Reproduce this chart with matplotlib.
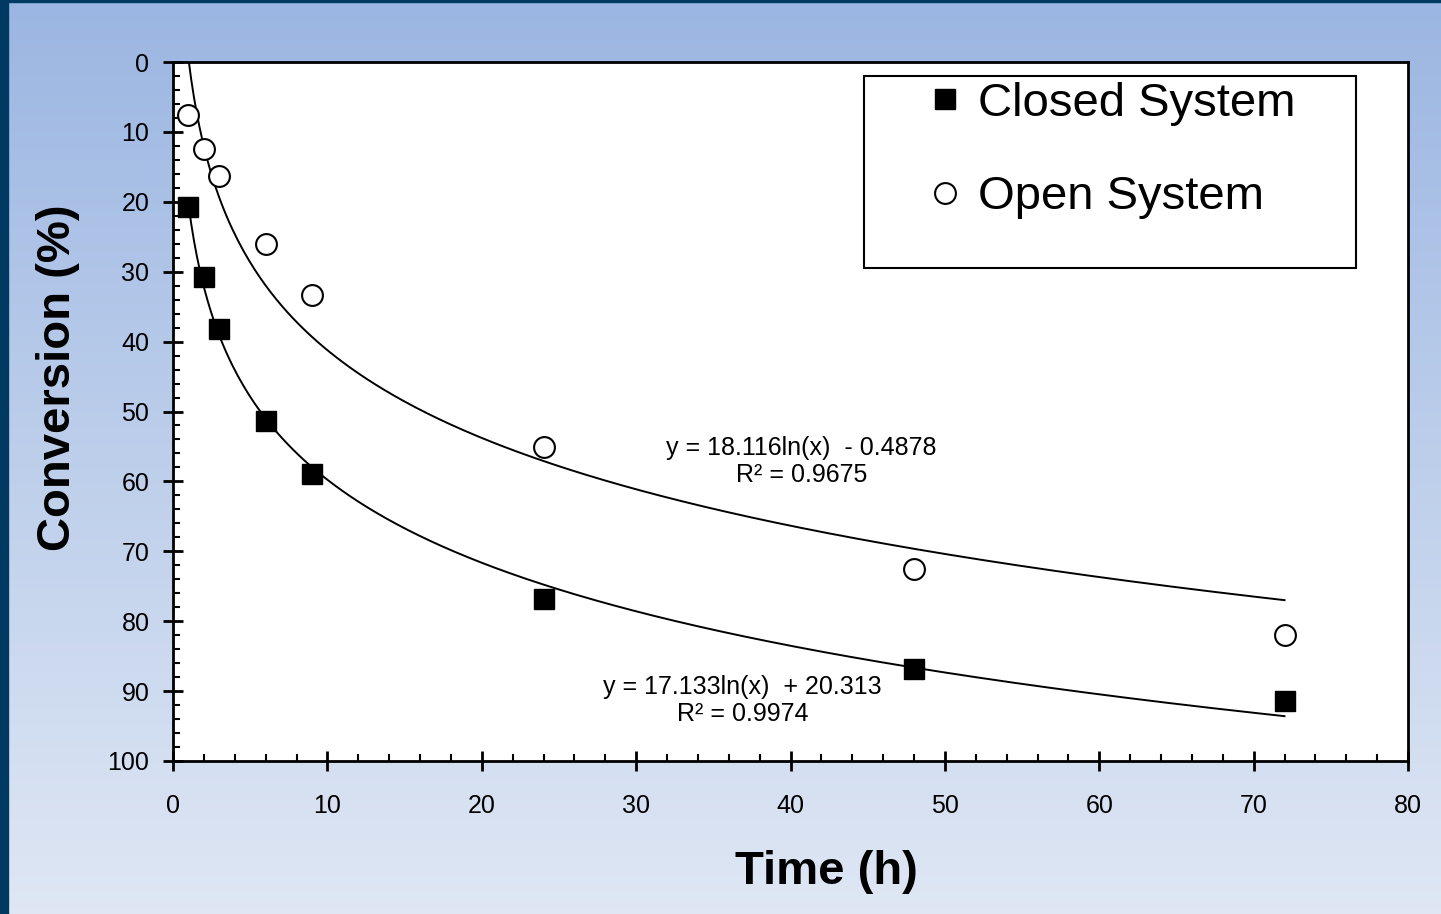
import numpy as np
import matplotlib
matplotlib.use("Agg")
import matplotlib.pyplot as plt
from matplotlib.patches import Rectangle
from matplotlib.ticker import MultipleLocator

plt.rcParams['font.family'] = ['Liberation Sans', 'DejaVu Sans']

# data
time_h = [1, 2, 3, 6, 9, 24, 48, 72]
closed_conv = [20.7, 30.8, 38.2, 51.4, 58.9, 76.8, 86.8, 91.4]
open_conv = [7.6, 12.4, 16.3, 26.0, 33.3, 55.1, 72.5, 82.0]

# log trendline coefficients as printed on the chart
closed_fit = (17.133, 20.313)
open_fit = (18.116, -0.4878)
closed_label = "y = 17.133ln(x)  + 20.313\nR² = 0.9974"
open_label = "y = 18.116ln(x)  - 0.4878\nR² = 0.9675"

W, H = 1441, 914
fig = plt.figure(figsize=(W / 100, H / 100), dpi=100)

# slide-style gradient background
bg = fig.add_axes([0, 0, 1, 1], zorder=-10)
top = np.array([0x9b, 0xb6, 0xe2]) / 255
bot = np.array([0xdf, 0xe7, 0xf4]) / 255
t = np.linspace(0, 1, 256)[:, None]
grad = top + (bot - top) * t
bg.imshow(grad[:, None, :].repeat(2, axis=1), aspect='auto', extent=[0, 1, 0, 1])
bg.add_patch(Rectangle((0, 0), 8 / W, 1, color='#003a63'))
bg.add_patch(Rectangle((0, 1 - 2 / H), 1, 2 / H, color='#003a63'))
bg.set_xlim(0, 1)
bg.set_ylim(0, 1)
bg.axis('off')

ax = fig.add_axes([173 / W, 1 - 761 / H, (1408 - 173) / W, (761 - 62) / H])
ax.set_facecolor('white')

xs = np.linspace(1, 72, 400)
ax.plot(xs, closed_fit[0] * np.log(xs) + closed_fit[1], color='black', lw=1.4, zorder=2)
ax.plot(xs, open_fit[0] * np.log(xs) + open_fit[1], color='black', lw=1.4, zorder=2)

ax.plot(time_h, closed_conv, 's', color='black', ms=15, ls='none', label='Closed System', zorder=3)
ax.plot(time_h, open_conv, 'o', mfc='white', mec='black', mew=1.5, ms=15, ls='none',
        label='Open System', zorder=3)

ax.text(40.7, 57.2, open_label, ha='center', va='center', fontsize=18, linespacing=1.15)
ax.text(36.9, 91.3, closed_label, ha='center', va='center', fontsize=18, linespacing=1.15)

ax.set_xlim(0, 80)
ax.set_ylim(100, 0)
ax.xaxis.set_major_locator(MultipleLocator(10))
ax.xaxis.set_minor_locator(MultipleLocator(2))
ax.yaxis.set_major_locator(MultipleLocator(10))
ax.yaxis.set_minor_locator(MultipleLocator(2))
ax.tick_params(which='major', direction='inout', length=14, width=2, labelsize=18, pad=17)
ax.tick_params(which='minor', direction='in', length=5, width=1.5)
ax.tick_params(axis='y', which='major', pad=10)
for s in ax.spines.values():
    s.set_linewidth(2)

ax.set_xlabel('Time (h)', fontsize=34, fontweight='bold')
ax.set_ylabel('Conversion (%)', fontsize=34, fontweight='bold')
ax.xaxis.set_label_coords(0.529, -0.127)
ax.yaxis.set_label_coords(-0.075, 0.548)

# legend box like the original
ax.add_patch(Rectangle(((864 - 173) / 1235, (761 - 268) / 699), (1356 - 864) / 1235, (268 - 76) / 699,
                       transform=ax.transAxes, fill=False, ec='black', lw=1.5, zorder=4))
ax.legend(loc='upper left', bbox_to_anchor=((902 - 173) / 1235, (761 - 58) / 699), frameon=False,
          fontsize=34, markerscale=1.0, handlelength=0.8, handletextpad=0.3, labelspacing=1.05,
          borderpad=0.0)

fig.savefig('out.png', dpi=100)
